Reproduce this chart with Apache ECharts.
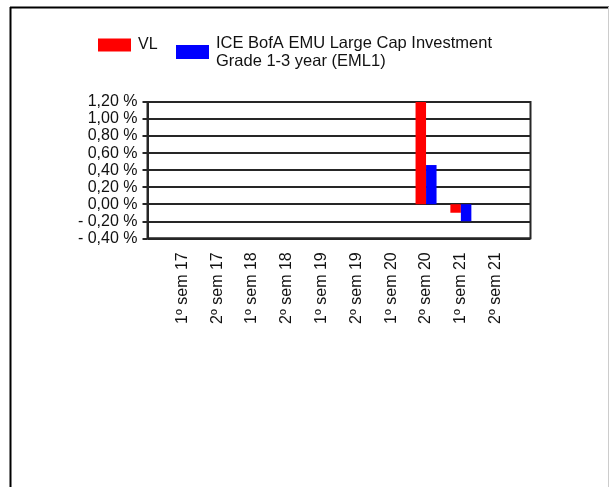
<!DOCTYPE html>
<html>
<head>
<meta charset="utf-8">
<script src="https://cdn.jsdelivr.net/npm/echarts@6/dist/echarts.min.js"></script>
<style>
html,body{margin:0;padding:0;background:#fff;}
#chart{width:611px;height:487px;}
</style>
</head>
<body>
<div id="chart"></div>
<script>
// ---- data ----
const categories = ['1º sem 17','2º sem 17','1º sem 18','2º sem 18','1º sem 19','2º sem 19','1º sem 20','2º sem 20','1º sem 21','2º sem 21'];
const vlValues = [null,null,null,null,null,null,null,1.20,-0.10,null];
const benchValues = [null,null,null,null,null,null,null,0.46,-0.20,null];
const yTicks = [-0.4,-0.2,0,0.2,0.4,0.6,0.8,1.0,1.2];
const seriesNames = ['VL','ICE BofA EMU Large Cap Investment\nGrade 1-3 year (EML1)'];

const FONT = "'Liberation Sans', Arial, sans-serif";
const axisData = [''].concat(categories, ['']);
const pad = arr => [null].concat(arr, [null]);
const LINE = '#262626';

const chart = echarts.init(document.getElementById('chart'), null, {renderer:'canvas'});
chart.setOption({
  animation:false,
  backgroundColor:'#fff',
  textStyle:{fontFamily:FONT},
  graphic:[
    {type:'line', shape:{x1:10.5,y1:7,x2:10.5,y2:487}, style:{stroke:'#000',lineWidth:2}},
    {type:'line', shape:{x1:10,y1:7.5,x2:609,y2:7.5}, style:{stroke:'#000',lineWidth:2}},
    {type:'line', shape:{x1:608.5,y1:7,x2:608.5,y2:487}, style:{stroke:'#ccc',lineWidth:1}}
  ],
  legend:[
    {data:[seriesNames[0]], left:93, top:32, itemWidth:33, itemHeight:13, icon:'rect',
     textStyle:{fontFamily:FONT,fontSize:16,color:'#111',padding:[0,0,0,2]}},
    {data:[seriesNames[1]], left:171, top:29, itemWidth:33, itemHeight:14, icon:'rect',
     textStyle:{fontFamily:FONT,fontSize:16.5,color:'#111',lineHeight:18,padding:[0,0,0,2]}}
  ],
  grid:{left:147.5, right:80.5, top:102, bottom:248.7, show:true, borderColor:LINE, borderWidth:2, containLabel:false},
  xAxis:{
    type:'category', data:axisData, boundaryGap:false,
    axisLine:{show:false, onZero:false},
    axisTick:{show:false},
    splitLine:{show:false},
    axisLabel:{rotate:90, interval:0, margin:14, fontFamily:FONT, fontSize:16, color:'#111'}
  },
  yAxis:{
    type:'value', min:-0.4, max:1.2, interval:0.2,
    axisLine:{show:true, lineStyle:{color:LINE,width:2}},
    axisTick:{show:true, length:5, lineStyle:{color:LINE,width:2}},
    splitLine:{show:true, lineStyle:{color:LINE,width:2}},
    axisLabel:{margin:10, fontFamily:FONT, fontSize:16, color:'#111',
      formatter:function(v){
        const s = Math.abs(v).toFixed(2).replace('.', ',');
        return (v < -1e-9 ? '- ' : '') + s + ' %';
      }}
  },
  series:[
    {name:seriesNames[0], type:'bar', data:pad(vlValues), barWidth:10.5, barGap:'0%',
     itemStyle:{color:'#ff0000'}},
    {name:seriesNames[1], type:'bar', data:pad(benchValues), barWidth:10.5, barGap:'0%',
     itemStyle:{color:'#0000ff'}}
  ]
});
</script>
</body>
</html>
